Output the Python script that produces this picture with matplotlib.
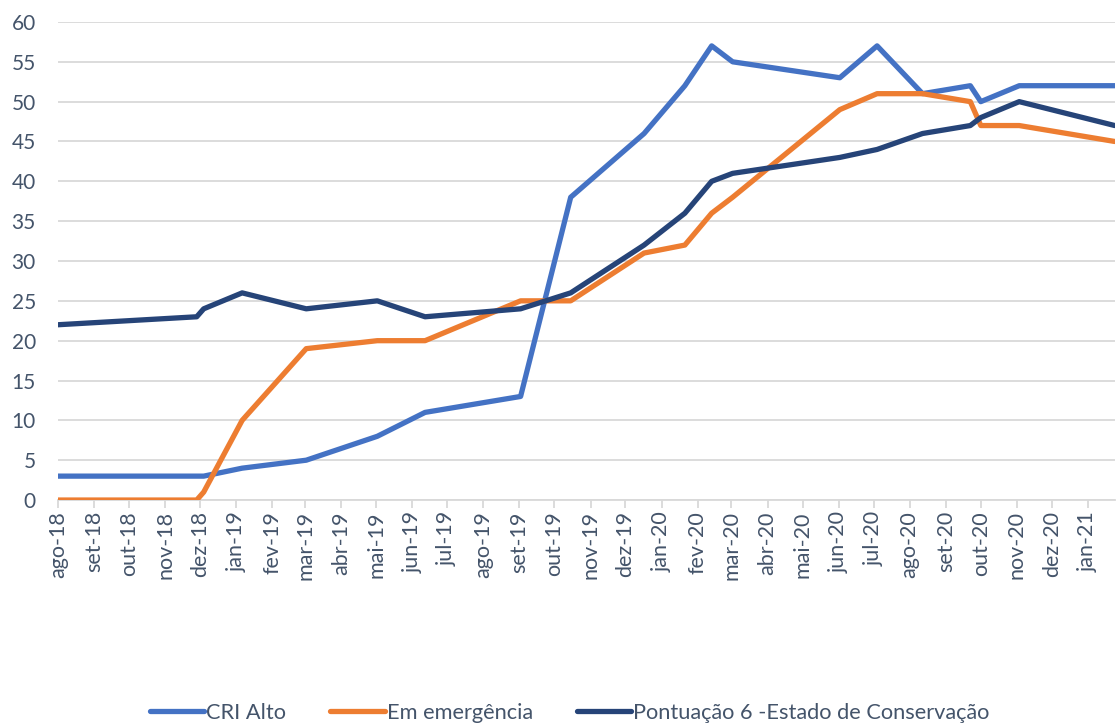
import pandas as pd
from matplotlib import pyplot as plt

# Survey dates (same for all series) and values
dates = ['2018-08-01', '2018-11-28', '2018-12-04', '2019-01-06', '2019-03-02',
         '2019-05-02', '2019-06-12', '2019-09-02', '2019-10-15', '2019-12-17',
         '2020-01-21', '2020-02-13', '2020-03-02', '2020-06-02', '2020-07-04',
         '2020-08-12', '2020-09-22', '2020-10-01', '2020-11-03', '2021-01-24']

cri_alto = [3, 3, 3, 4, 5, 8, 11, 13, 38, 46, 52, 57, 55, 53, 57, 51, 52, 50, 52, 52]
em_emergencia = [0, 0, 1, 10, 19, 20, 20, 25, 25, 31, 32, 36, 38, 49, 51, 51, 50, 47, 47, 45]
pontuacao_6 = [22, 23, 24, 26, 24, 25, 23, 24, 26, 32, 36, 40, 41, 43, 44, 46, 47, 48, 50, 47]

series_names = ['CRI Alto', 'Em emergência', 'Pontuação 6 -Estado de Conservação']

month_ticks = pd.date_range('2018-08-01', '2021-01-01', freq='MS')
month_abbr = ['jan', 'fev', 'mar', 'abr', 'mai', 'jun',
              'jul', 'ago', 'set', 'out', 'nov', 'dez']
tick_labels = [f'{month_abbr[d.month - 1]}-{d.year % 100:02d}' for d in month_ticks]

plt.rcParams['font.family'] = ['Lato', 'DejaVu Sans']
text_col = '#44546A'
grid_col = '#D9D9D9'

x = pd.to_datetime(dates)

fig = plt.figure(figsize=(11.17, 7.25), dpi=100)
ax = fig.add_axes([0.052, 0.3103, 0.946, 0.6594])

colors = ['#4472C4', '#ED7D31', '#264478']
for vals, name, c in zip([cri_alto, em_emergencia, pontuacao_6], series_names, colors):
    ax.plot(x, vals, color=c, lw=3.8, label=name,
            solid_joinstyle='round', solid_capstyle='round', zorder=3)

ax.set_xlim(x[0], x[-1])
ax.set_ylim(0, 60)
ax.set_yticks(range(0, 61, 5))
ax.yaxis.grid(True, color=grid_col, lw=1.3)
ax.set_axisbelow(True)

ax.set_xticks(month_ticks)
ax.set_xticklabels(tick_labels, rotation=90)

for s in ['top', 'right', 'left']:
    ax.spines[s].set_visible(False)
ax.spines['bottom'].set_color(grid_col)
ax.spines['bottom'].set_linewidth(1.3)

ax.tick_params(axis='y', length=0, labelsize=15, labelcolor=text_col, pad=16)
ax.tick_params(axis='x', length=6, width=1.3, color=grid_col,
               labelsize=15.5, labelcolor=text_col, pad=2)

fig.legend(loc='center', bbox_to_anchor=(0.51, 0.017), ncol=3, frameon=False,
           fontsize=15.7, labelcolor=text_col, handlelength=2.5, handletextpad=0.1,
           columnspacing=2.0)

plt.savefig('out.png', dpi=100)
